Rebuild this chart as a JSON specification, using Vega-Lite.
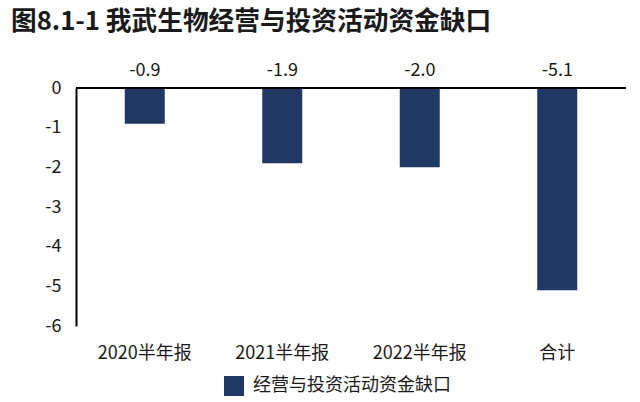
{"$schema":"https://vega.github.io/schema/vega-lite/v6.json","width":550,"height":238,"padding":{"left":76,"top":88,"right":14,"bottom":76},"autosize":"none","background":"white","title":{"text":"图8.1-1 我武生物经营与投资活动资金缺口","anchor":"start","frame":"group","offset":26,"dx":-65,"fontSize":25.7,"fontWeight":"bold","font":"Noto Sans CJK SC","color":"#1a1a1a","limit":600},"data":{"values":[{"c":"2020半年报","v":-0.9,"s":"经营与投资活动资金缺口","l":"-0.9"},{"c":"2021半年报","v":-1.9,"s":"经营与投资活动资金缺口","l":"-1.9"},{"c":"2022半年报","v":-2.0,"s":"经营与投资活动资金缺口","l":"-2.0"},{"c":"合计","v":-5.1,"s":"经营与投资活动资金缺口","l":"-5.1"}]},"config":{"view":{"stroke":null},"font":"Noto Sans CJK SC"},"layer":[{"mark":{"type":"bar","width":40},"encoding":{"x":{"field":"c","type":"nominal","sort":null,"scale":{"paddingInner":0.4,"paddingOuter":0.2},"axis":{"orient":"bottom","title":null,"labelAngle":0,"labelFontSize":18,"labelColor":"#1a1a1a","ticks":false,"domain":false,"labelPadding":18,"labelOverlap":false}},"y":{"field":"v","type":"quantitative","scale":{"domain":[-6,0]},"axis":{"title":null,"values":[0,-1,-2,-3,-4,-5,-6],"tickCount":7,"labelExpr":"'' + datum.value","labelOverlap":false,"labelFontSize":18,"labelColor":"#1a1a1a","ticks":false,"grid":false,"domainColor":"#000000","domainWidth":2,"labelPadding":15}},"color":{"field":"s","type":"nominal","scale":{"range":["#1f3864"]},"legend":{"title":null,"orient":"none","legendX":148,"legendY":288,"symbolType":"square","symbolSize":400,"symbolStrokeWidth":0,"labelFontSize":18,"labelColor":"#1a1a1a","labelOffset":9,"labelLimit":300}}}},{"mark":{"type":"rule","color":"#000000","strokeWidth":2},"encoding":{"y":{"datum":0,"type":"quantitative","axis":{"title":null,"values":[0,-1,-2,-3,-4,-5,-6],"tickCount":7,"labelExpr":"'' + datum.value","labelOverlap":false,"labelFontSize":18,"labelColor":"#1a1a1a","ticks":false,"grid":false,"domainColor":"#000000","domainWidth":2,"labelPadding":15}}}},{"mark":{"type":"text","fontSize":18,"color":"#1a1a1a"},"encoding":{"x":{"field":"c","type":"nominal","sort":null,"axis":{"orient":"bottom","title":null,"labelAngle":0,"labelFontSize":18,"labelColor":"#1a1a1a","ticks":false,"domain":false,"labelPadding":18,"labelOverlap":false}},"y":{"datum":0,"type":"quantitative","axis":{"title":null,"values":[0,-1,-2,-3,-4,-5,-6],"tickCount":7,"labelExpr":"'' + datum.value","labelOverlap":false,"labelFontSize":18,"labelColor":"#1a1a1a","ticks":false,"grid":false,"domainColor":"#000000","domainWidth":2,"labelPadding":15}},"yOffset":{"value":-17},"text":{"field":"l"}}}]}
